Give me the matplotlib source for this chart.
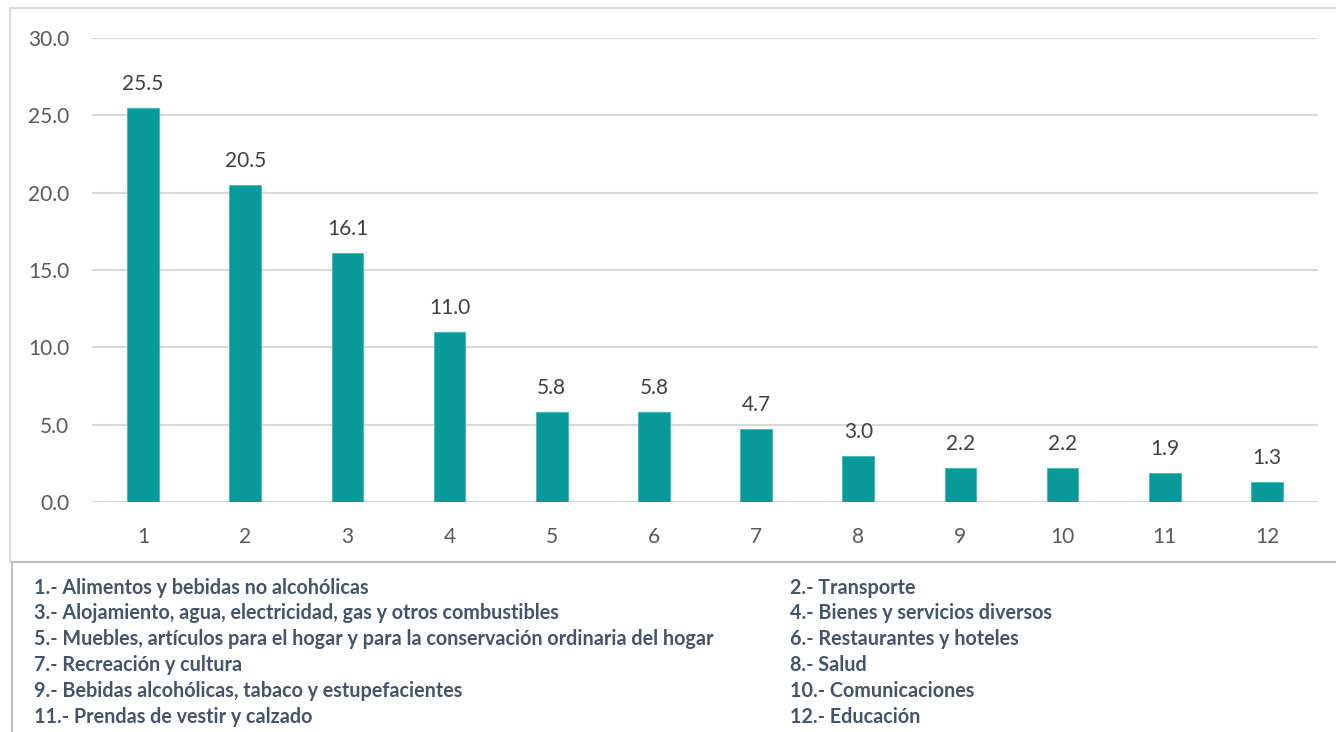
import matplotlib
matplotlib.use("Agg")
import matplotlib.pyplot as plt
from matplotlib.patches import Rectangle

categories = ["1", "2", "3", "4", "5", "6", "7", "8", "9", "10", "11", "12"]
values = [25.5, 20.5, 16.1, 11.0, 5.8, 5.8, 4.7, 3.0, 2.2, 2.2, 1.9, 1.3]
legend_left = [
    "1.- Alimentos y bebidas no alcohólicas",
    "3.- Alojamiento, agua, electricidad, gas y otros combustibles",
    "5.- Muebles, artículos para el hogar y para la conservación ordinaria del hogar",
    "7.- Recreación y cultura",
    "9.- Bebidas alcohólicas, tabaco y estupefacientes",
    "11.- Prendas de vestir y calzado",
]
legend_right = [
    "2.- Transporte",
    "4.- Bienes y servicios diversos",
    "6.- Restaurantes y hoteles",
    "8.- Salud",
    "10.- Comunicaciones",
    "12.- Educación",
]
yticks = [0, 5, 10, 15, 20, 25, 30]

W, H = 1336, 732
plt.rcParams['font.family'] = ['Lato', 'DejaVu Sans']
fig = plt.figure(figsize=(W / 100, H / 100), dpi=100)

def fx(px):
    return px / W

def fy(py):
    return 1 - py / H

# outer chart box
fig.add_artist(Rectangle((fx(10), fy(562)), fx(1340) - fx(10), fy(8) - fy(562),
                         transform=fig.transFigure, fill=False, edgecolor="#D9D9D9", lw=1.5))
# legend box
fig.add_artist(Rectangle((fx(12), fy(740)), fx(1345) - fx(12), fy(562) - fy(740),
                         transform=fig.transFigure, fill=False, edgecolor="#BFBFBF", lw=1.5))

ax = fig.add_axes([fx(92), fy(502), fx(1318) - fx(92), fy(38) - fy(502)])
x = list(range(len(categories)))
ax.bar(x, values, width=0.31, color="#099999", edgecolor="#3FB8B8", linewidth=0.6, zorder=3)
ax.set_xlim(-0.5, len(categories) - 0.5)
ax.set_ylim(0, 30)
ax.set_yticks(yticks)
ax.set_yticklabels([f"{v:.1f}" for v in yticks])
ax.set_xticks(x)
ax.set_xticklabels(categories)
ax.grid(axis="y", color="#D9D9D9", lw=1.5, zorder=0)
for s in ax.spines.values():
    s.set_visible(False)
ax.tick_params(axis="both", length=0, colors="#595959", labelsize=15)
ax.tick_params(axis="y", pad=16.5)
ax.tick_params(axis="x", pad=18)

for xi, v in zip(x, values):
    ax.annotate(f"{v:.1f}", (xi, v), xytext=(0, 13), textcoords="offset points",
                ha="center", va="baseline", fontsize=15, color="#404040")

ys = [588, 613, 639, 665, 691, 717]
for t, yy in zip(legend_left, ys):
    fig.text(fx(34), fy(yy), t, ha="left", va="center", fontsize=14.2,
             fontweight="bold", color="#44546A")
for t, yy in zip(legend_right, ys):
    fig.text(fx(790), fy(yy), t, ha="left", va="center", fontsize=14.2,
             fontweight="bold", color="#44546A")

fig.savefig("out.png", dpi=100)
